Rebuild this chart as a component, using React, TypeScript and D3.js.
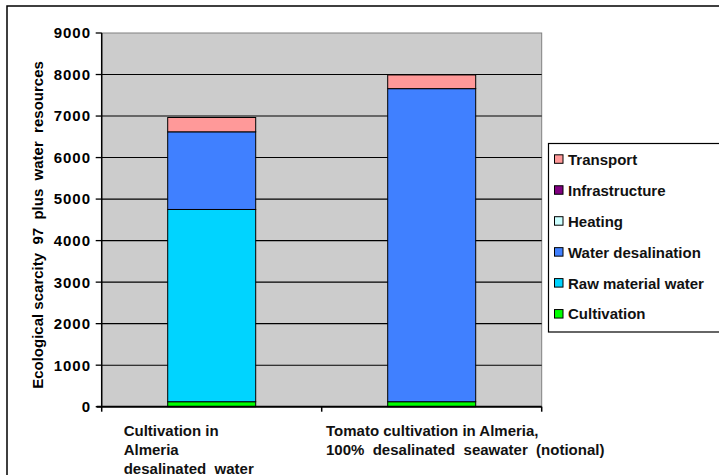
import React, { useEffect, useRef } from "react";
import * as d3 from "d3";

const categories = ["cat1", "cat2"];
const categoryLabels = [
  ["Cultivation in", "Almeria", "desalinated  water"],
  ["Tomato cultivation in Almeria,", "100%  desalinated  seawater  (notional)"],
];
const seriesNames = ["Cultivation", "Raw material water", "Water desalination", "Heating", "Infrastructure", "Transport"];
const cultivation = [120, 120];
const rawMaterialWater = [4630, 0];
const waterDesalination = [1870, 7540];
const heating = [0, 0];
const infrastructure = [0, 0];
const transport = [345, 330];
const yTicks = [0, 1000, 2000, 3000, 4000, 5000, 6000, 7000, 8000, 9000];
const legendOrder = ["Transport", "Infrastructure", "Heating", "Water desalination", "Raw material water", "Cultivation"];
const yTitle = "Ecological scarcity  97  plus  water  resources";

const colors: Record<string, string> = {
  Cultivation: "#00FF00",
  "Raw material water": "#00D4FF",
  "Water desalination": "#4080FF",
  Heating: "#CCFFFF",
  Infrastructure: "#800080",
  Transport: "#FF9999",
};

export default function App() {
  const ref = useRef<SVGSVGElement>(null);
  useEffect(() => {
    const svg = d3.select(ref.current);
    svg.selectAll("*").remove();
    const W = 719, H = 475;
    const left = 101.7, right = 541.7, top = 33, bottom = 406.7;
    const font = "'Liberation Sans', Arial, sans-serif";

    svg.append("rect").attr("x", 7).attr("y", 6).attr("width", W + 10).attr("height", H + 10)
      .attr("fill", "white").attr("stroke", "black").attr("stroke-width", 1.5);

    const y = d3.scaleLinear().domain([0, 9000]).range([bottom, top]);
    const x = d3.scaleBand().domain(categories).range([left, right]).paddingInner(0.6).paddingOuter(0.3);

    // plot background
    svg.append("rect").attr("x", left).attr("y", top).attr("width", right - left).attr("height", bottom - top)
      .attr("fill", "#CCCCCC").attr("stroke", "#808080").attr("stroke-width", 1);

    // gridlines
    svg.append("g").selectAll("line").data(yTicks.filter((t) => t > 0 && t < 9000)).join("line")
      .attr("x1", left).attr("x2", right).attr("y1", (d) => y(d)).attr("y2", (d) => y(d))
      .attr("stroke", "black").attr("stroke-width", 1.1);

    // stacked bars
    const table = categories.map((c, i) => ({
      cat: c,
      Cultivation: cultivation[i],
      "Raw material water": rawMaterialWater[i],
      "Water desalination": waterDesalination[i],
      Heating: heating[i],
      Infrastructure: infrastructure[i],
      Transport: transport[i],
    }));
    const stack = d3.stack<any>().keys(seriesNames)(table);
    const bw = x.bandwidth();
    stack.forEach((layer) => {
      svg.append("g").selectAll("rect").data(layer).join("rect")
        .attr("x", (d: any) => x(d.data.cat)!)
        .attr("width", bw)
        .attr("y", (d: any) => y(d[1]))
        .attr("height", (d: any) => Math.max(0, y(d[0]) - y(d[1])))
        .attr("fill", colors[layer.key])
        .attr("stroke", (d: any) => (d[1] - d[0] > 0 ? "black" : "none"))
        .attr("stroke-width", 1);
    });

    // axes lines
    svg.append("line").attr("x1", left).attr("x2", left).attr("y1", top).attr("y2", bottom)
      .attr("stroke", "black").attr("stroke-width", 1.5);
    svg.append("line").attr("x1", left - 5).attr("x2", right).attr("y1", bottom).attr("y2", bottom)
      .attr("stroke", "black").attr("stroke-width", 2);
    // y ticks
    const yt = svg.append("g");
    yt.selectAll("line").data(yTicks).join("line")
      .attr("x1", left - 6).attr("x2", left).attr("y1", (d) => y(d)).attr("y2", (d) => y(d))
      .attr("stroke", "black").attr("stroke-width", 1.3);
    yt.selectAll("text").data(yTicks).join("text")
      .attr("x", 91).attr("y", (d) => y(d)).attr("dy", "0.36em")
      .attr("text-anchor", "end").attr("font-family", font).attr("font-weight", "bold")
      .attr("font-size", 15).attr("letter-spacing", 1).text((d) => String(d));
    // x ticks at band boundaries
    const xb = [left, left + x.step(), right];
    svg.append("g").selectAll("line").data(xb).join("line")
      .attr("x1", (d) => d).attr("x2", (d) => d).attr("y1", bottom).attr("y2", bottom + 5)
      .attr("stroke", "black").attr("stroke-width", 1.5);

    // x labels
    const labelOffsets = [88, 105.7];
    categories.forEach((c, i) => {
      const cx = x(c)! + bw / 2 - labelOffsets[i];
      const t = svg.append("text").attr("font-family", font).attr("font-weight", "bold")
        .attr("font-size", 15).attr("fill", "#111").style("white-space", "pre");
      categoryLabels[i].forEach((line, j) => {
        t.append("tspan").attr("x", cx).attr("y", 436 + j * 19).text(line);
      });
    });

    // y title
    svg.append("text").attr("transform", `translate(43, 225) rotate(-90)`)
      .attr("text-anchor", "middle").attr("font-family", font).attr("font-weight", "bold")
      .attr("font-size", 15).style("white-space", "pre").text(yTitle);

    // legend
    svg.append("rect").attr("x", 548.5).attr("y", 143.5).attr("width", 200).attr("height", 188.5)
      .attr("fill", "white").attr("stroke", "black").attr("stroke-width", 1.2);
    const lg = svg.append("g").selectAll("g").data(legendOrder).join("g")
      .attr("transform", (d, i) => `translate(554.5, ${159.3 + i * 30.95})`);
    lg.append("rect").attr("x", 0).attr("y", -4.5).attr("width", 8.5).attr("height", 8.5)
      .attr("fill", (d) => colors[d]).attr("stroke", "black").attr("stroke-width", 1);
    lg.append("text").attr("x", 13.5).attr("y", 0).attr("dy", "0.36em")
      .attr("font-family", font).attr("font-weight", "bold").attr("font-size", 15).attr("fill", "#111")
      .text((d) => d);
  }, []);
  return (
    <svg ref={ref} width={719} height={475}
      style={{ position: "absolute", left: 0, top: 0, display: "block", background: "white" }} />
  );
}
